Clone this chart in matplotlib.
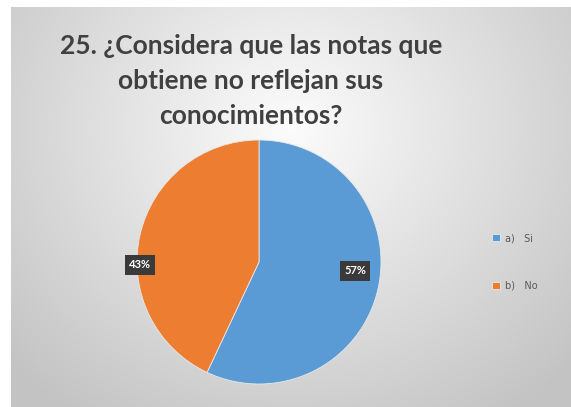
import numpy as np
import matplotlib
matplotlib.use("Agg")
import matplotlib.pyplot as plt

title = "25. ¿Considera que las notas que\nobtiene no reflejan sus\nconocimientos?"
categories = ["a)   Si", "b)   No"]
values = [57, 43]
colors = ["#5B9BD5", "#ED7D31"]

W, H = 571, 407
fig = plt.figure(figsize=(W / 100, H / 100), dpi=100)
fig.patch.set_facecolor("white")

# background gradient panel
bx0, by0 = 11 / W, 0.0
bw, bh = 1 - bx0, 1 - 7 / H
bg = fig.add_axes([bx0, by0, bw, bh])
yy, xx = np.mgrid[0:400, 0:560]
cx, cy = 280, 120
r = np.sqrt(((xx - cx) / 420) ** 2 + ((yy - cy) / 380) ** 2)
v = np.clip(252 - 62 * r, 195, 252) / 255.0
img = np.dstack([v, v, v])
bg.imshow(img, aspect="auto", extent=[0, 1, 0, 1], interpolation="bilinear")
bg.set_axis_off()

fig.text(251 / W, 1 - 81 / H, title, ha="center", va="center",
         fontsize=19, fontweight="bold", color="#404040",
         family="Lato", linespacing=1.55)

# pie
cxp, cyp, rad = 259, 262, 122
ax = fig.add_axes([(cxp - rad) / W, 1 - (cyp + rad) / H, 2 * rad / W, 2 * rad / H])
wedges, texts = ax.pie(values, colors=colors, startangle=90, counterclock=False,
                       wedgeprops=dict(linewidth=0.6, edgecolor="#e8e8e8"))
ax.set_xlim(-1, 1)
ax.set_ylim(-1, 1)
ax.set_aspect("auto")
ax.set_axis_off()

label_pos = [((355 - cxp) / rad, -(271 - cyp) / rad), ((140 - cxp) / rad, -(265 - cyp) / rad)]
for val, (lx, ly) in zip(values, label_pos):
    ax.text(lx, ly, f"{val}%", ha="center", va="center", fontsize=8,
            fontweight="bold", color="white", family="Lato",
            bbox=dict(boxstyle="square,pad=0.4", facecolor="#3a3a3a", edgecolor="none"))

# legend
leg = fig.legend(wedges, categories, loc="center", bbox_to_anchor=(515 / W, 1 - 262 / H),
                 frameon=False, fontsize=7, labelcolor="#595959",
                 handlelength=0.8, handleheight=0.8, labelspacing=3.9, handletextpad=0.6)

fig.savefig("out.png", dpi=100)
